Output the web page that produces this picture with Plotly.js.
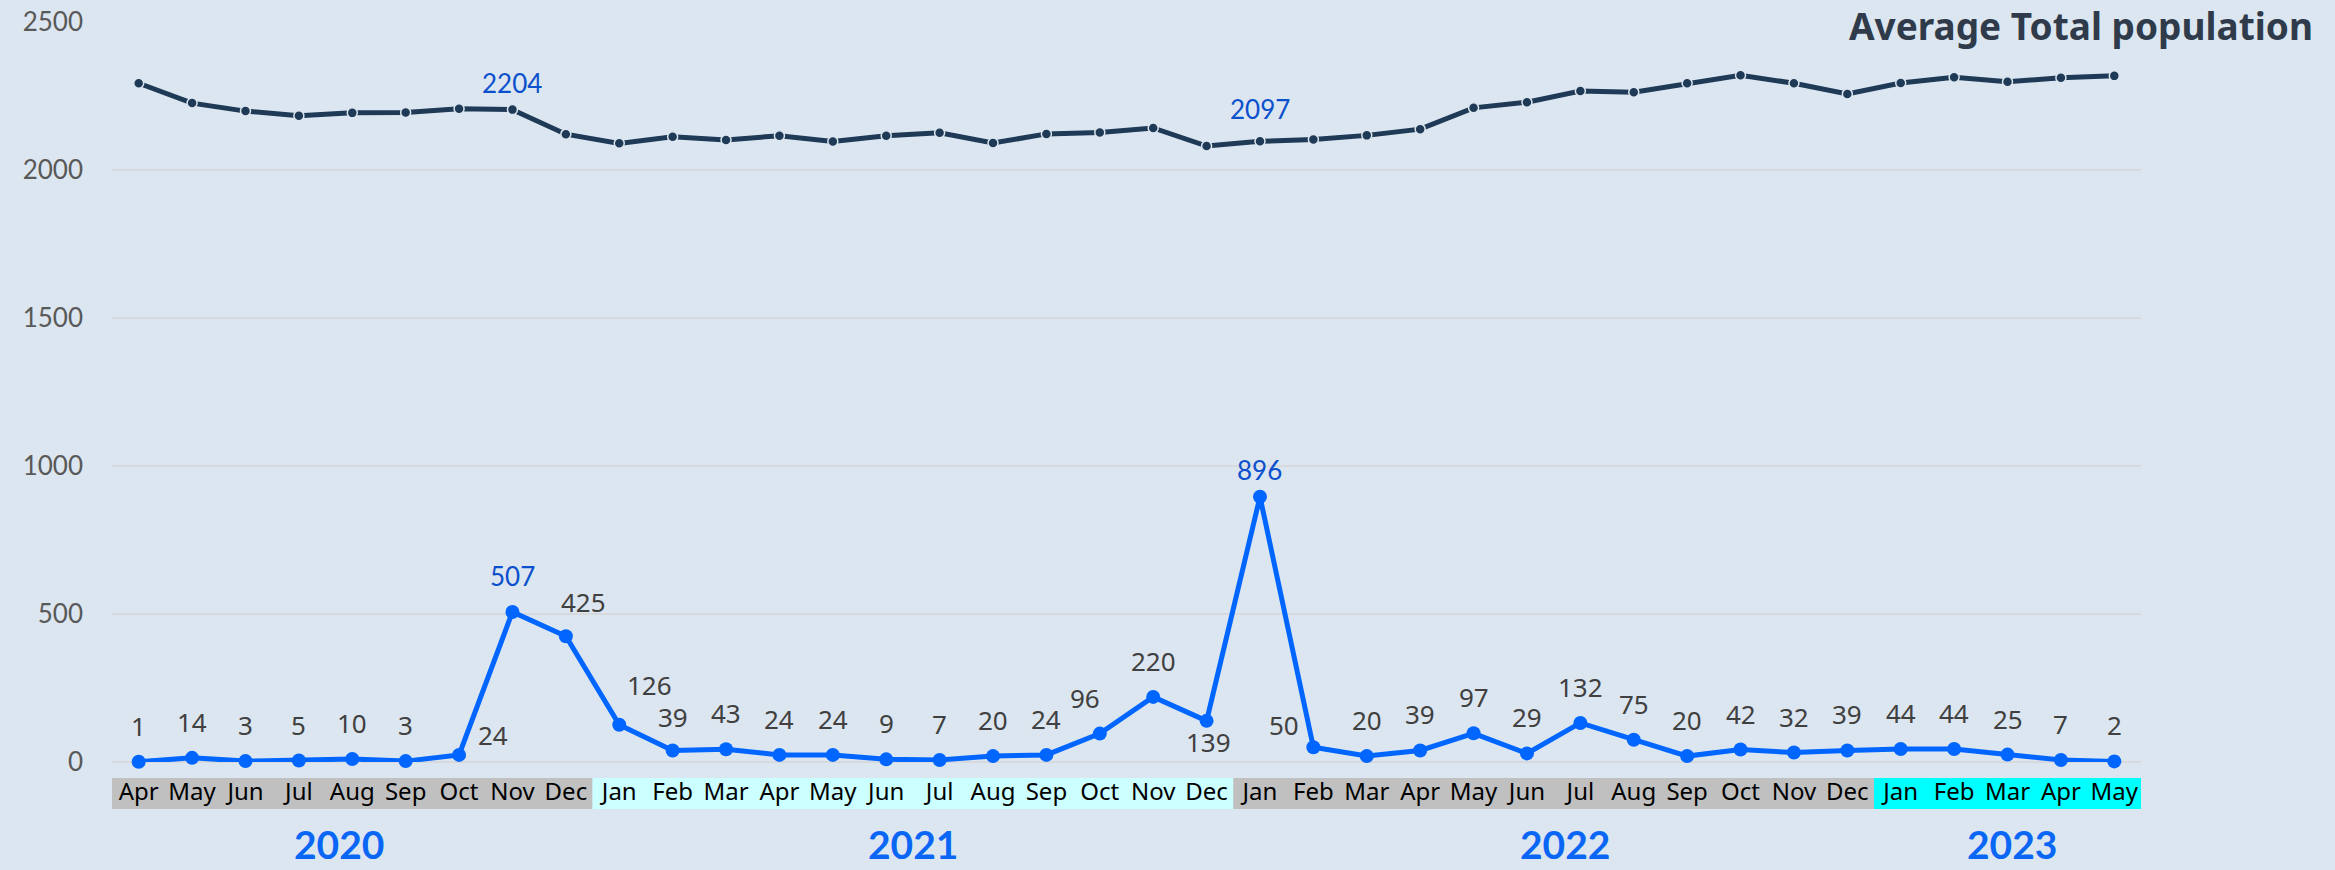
<!DOCTYPE html>
<html>
<head>
<meta charset="utf-8">
<script src="https://cdn.plot.ly/plotly-3.0.1.min.js"></script>
<style>
  html, body { margin: 0; padding: 0; background: #dce6f0; }
  #chart { width: 2335px; height: 870px; }
</style>
</head>
<body>
<div id="chart"></div>
<script>
// ---------------- data ----------------
const months = ['Apr','May','Jun','Jul','Aug','Sep','Oct','Nov','Dec',
  'Jan','Feb','Mar','Apr','May','Jun','Jul','Aug','Sep','Oct','Nov','Dec',
  'Jan','Feb','Mar','Apr','May','Jun','Jul','Aug','Sep','Oct','Nov','Dec',
  'Jan','Feb','Mar','Apr','May'];
const years = ['2020','2021','2022','2023'];
const monthsPerYear = [9, 12, 12, 5];

const avgTotalPopulation = [2293,2226,2199,2183,2193,2194,2207,2204,2121,
  2090,2112,2101,2116,2096,2116,2126,2091,2122,2127,2142,2081,
  2097,2103,2117,2138,2210,2229,2267,2263,2293,2320,2293,2257,
  2294,2313,2298,2312,2318];

const monthlyCount = [1,14,3,5,10,3,24,507,425,
  126,39,43,24,24,9,7,20,24,96,220,139,
  896,50,20,39,97,29,132,75,20,42,32,39,
  44,44,25,7,2];

const highlightMonths = [7, 21];   // months whose values are called out in blue

// ---------------- styling / layout helpers ----------------
const BG = '#dce6f0';
const idx = months.map((m, i) => i);

// label offsets (px) for a few crowded points: [xshift, yshift]
const countOffsets = {6:[34,20], 8:[18,34], 9:[30,40], 10:[0,33], 18:[-15,36], 20:[2,-21], 21:[0,27], 22:[-29,22]};
const popOffsets = {7:[0,27], 21:[0,32]};
const yearShift = [-13, 0, 11, 4];

const annotations = [];
monthlyCount.forEach((v, i) => {
  const hi = highlightMonths.includes(i);
  const off = countOffsets[i] || [0, 36];
  annotations.push({
    x: i, y: v, xref: 'x', yref: 'y', text: String(v), showarrow: false,
    xshift: off[0], yshift: off[1],
    font: {family: hi ? 'Lato' : 'Noto Sans', size: 26, color: hi ? '#0b50cc' : '#404040'}
  });
});
highlightMonths.forEach(i => {
  const off = popOffsets[i] || [0, 30];
  annotations.push({
    x: i, y: avgTotalPopulation[i], xref: 'x', yref: 'y', text: String(avgTotalPopulation[i]),
    showarrow: false, xshift: off[0], yshift: off[1],
    font: {family: 'Lato', size: 26, color: '#0b50cc'}
  });
});

const bandColors = ['#c0c0c0', '#ccffff', '#c0c0c0', '#00ffff'];
const shapes = [];
let start = 0;
years.forEach((y, k) => {
  const n = monthsPerYear[k];
  shapes.push({
    type: 'rect', xref: 'x', yref: 'paper',
    x0: start - 0.5, x1: start + n - 0.5, y0: -0.0635, y1: -0.0216,
    fillcolor: bandColors[k], line: {width: 0}, layer: 'below'
  });
  annotations.push({
    x: start + (n - 1) / 2, y: -0.111, xref: 'x', yref: 'paper',
    xshift: yearShift[k],
    text: '<b>' + y + '</b>', showarrow: false, yanchor: 'middle',
    font: {family: 'Lato', size: 39, color: '#0a66f5'}
  });
  start += n;
});

const traces = [
  {
    x: idx, y: monthlyCount, type: 'scatter', mode: 'lines+markers',
    line: {color: '#0066ff', width: 5},
    marker: {size: 14, color: '#0066ff'},
    cliponaxis: false, hoverinfo: 'y', showlegend: false
  },
  {
    x: idx, y: avgTotalPopulation, type: 'scatter', mode: 'lines+markers',
    line: {color: '#1f3a56', width: 5},
    marker: {size: 10, color: '#1f3a56', line: {color: BG, width: 1.5}},
    cliponaxis: false, hoverinfo: 'y', showlegend: false
  }
];

const layout = {
  width: 2335, height: 870,
  margin: {l: 112, r: 194, t: 22, b: 108},
  paper_bgcolor: BG, plot_bgcolor: BG,
  title: {
    text: '<b>Average Total population</b>',
    font: {family: 'Noto Sans', size: 37, color: '#2f3b4a'},
    x: 2313 / 2335, xanchor: 'right', xref: 'container',
    y: 1 - 27 / 870, yanchor: 'middle', yref: 'container'
  },
  xaxis: {
    range: [-0.5, months.length - 0.5],
    tickmode: 'array', tickvals: idx, ticktext: months,
    showgrid: false, zeroline: false, showline: false, ticks: '',
    ticklabelstandoff: 13,
    tickfont: {family: 'Noto Sans', size: 24, color: '#000000'}
  },
  yaxis: {
    range: [0, 2500], dtick: 500, tick0: 0,
    showgrid: true, gridcolor: '#d7d9dc', gridwidth: 2,
    zeroline: true, zerolinecolor: '#d7d9dc', zerolinewidth: 2,
    showline: false, ticks: '',
    ticklabelstandoff: 28,
    tickfont: {family: 'Lato', size: 26, color: '#595959'}
  },
  shapes: shapes,
  annotations: annotations
};

Plotly.newPlot('chart', traces, layout, {displayModeBar: false, staticPlot: true});
</script>
</body>
</html>
